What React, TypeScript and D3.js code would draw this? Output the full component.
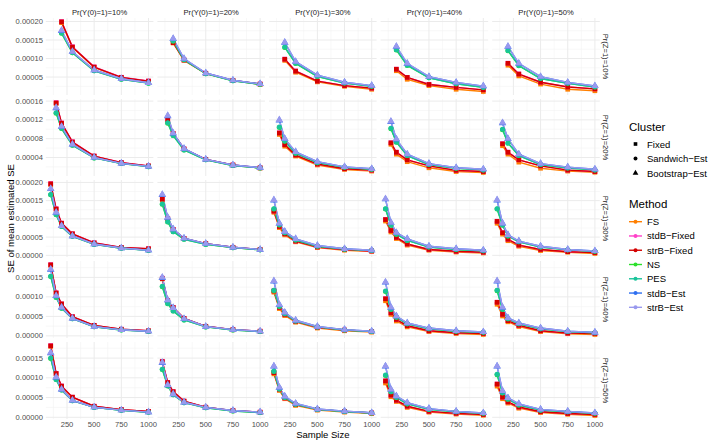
import React from "react";
import * as d3 from "d3";

const zLabels = ["Pr(Z=1)=10%", "Pr(Z=1)=20%", "Pr(Z=1)=30%", "Pr(Z=1)=40%", "Pr(Z=1)=50%"];
const yLabels = ["Pr(Y(0)=1)=10%", "Pr(Y(0)=1)=20%", "Pr(Y(0)=1)=30%", "Pr(Y(0)=1)=40%", "Pr(Y(0)=1)=50%"];

// sample sizes per facet row
const sampleSizes = [
  [200, 300, 500, 750, 1000],
  [150, 200, 300, 500, 750, 1000],
  [100, 150, 200, 300, 500, 750, 1000],
  [100, 150, 200, 300, 500, 750, 1000],
  [100, 150, 200, 300, 500, 750, 1000],
];

const methods = ["FS", "stdB\u2212Fixed", "strB\u2212Fixed", "NS", "PES", "stdB\u2212Est", "strB\u2212Est"];
const methodColors = ["#ff7f00", "#ff40c8", "#d40000", "#2be02b", "#19c49a", "#2e6ff0", "#9999ee"];
const methodCluster = [0, 0, 0, 1, 1, 2, 2];
const clusters = ["Fixed", "Sandwich\u2212Est", "Bootstrap\u2212Est"];

const xTicks = [250, 500, 750, 1000];
const xMinor = [125, 375, 625, 875];
// y ticks in units of 1e-6
const yTicksByRow = [
  [50, 100, 150, 200],
  [40, 80, 120, 160],
  [0, 50, 100, 150, 200],
  [0, 50, 100, 150],
  [0, 50, 100, 150],
];

// SE of mean estimated SE, in units of 1e-6; 25 panels, row = Pr(Z=1), column = Pr(Y(0)=1)
const seFS = [
  [197, 130, 76, 48.5, 38.5], [142, 95, 59.5, 40.5, 30.5], [95, 63, 37, 25, 17], [67, 44, 27, 17, 11], [82, 53, 31, 17, 13],
  [155, 112, 72, 42.5, 28.5, 21.5], [119, 90, 57.5, 35.5, 23.5, 17.5], [89, 64, 43, 24, 14.5, 11], [68, 47, 31, 18, 10, 8], [65, 47, 30, 17, 11, 8.5],
  [194, 126, 87, 58.5, 33.5, 21, 17.5], [153, 100, 70, 46, 31.5, 21.5, 15.5], [118, 76, 56, 37, 21, 14, 10.5], [94, 64, 46, 28, 14, 9, 6.5], [88, 58, 40, 25, 13, 8.5, 5],
  [181, 109, 81, 48.5, 26.5, 16.5, 12.5], [146, 89, 72, 44.5, 24, 15.5, 11.5], [112, 70, 52, 35, 20, 13, 9.5], [90, 55, 38, 23, 11, 6, 3.5], [81, 51, 36, 24, 11, 5.5, 3.5],
  [180, 110, 78, 50.5, 27.5, 19, 14.5], [140, 87, 64, 40.5, 25, 16.5, 12.5], [110, 68, 47, 30, 18, 13, 9.5], [87, 52, 40, 25, 13, 8, 5], [79, 47, 36, 23, 12, 7.5, 4.5],
];
const seStdBFixed = [
  [200, 132, 77.5, 49.5, 39.5], [144, 96.5, 60.5, 41, 31.5], [98.5, 66.5, 39.5, 27, 20], [71.5, 49, 30.5, 22, 15.5], [87.5, 58.5, 36, 23.5, 18],
  [157, 113.5, 73.5, 43, 29.5, 22], [121, 91, 58.5, 36, 24, 18], [92.5, 67.5, 45.5, 26, 16, 13], [71.5, 51.5, 35, 22, 12.5, 10], [69.5, 51.5, 35, 22, 13, 10],
  [197, 128, 88.5, 59, 34.5, 21.5, 18], [155, 101.5, 71, 46.5, 32, 22, 16], [121.5, 79.5, 59, 39, 23, 16, 12], [98.5, 68, 49, 31, 16, 11, 8.5], [93.5, 62, 44, 28, 16, 10, 7.5],
  [183, 110.5, 82, 49.5, 27, 17, 13], [148, 90.5, 73, 45, 24.5, 16, 12], [115.5, 73, 55, 37, 22, 15, 11], [95.5, 59, 42, 26, 13, 8, 6], [86.5, 55, 39, 27, 13, 7, 6],
  [182, 111.5, 79.5, 51, 28, 19.5, 15], [142, 88.5, 65, 41, 25.5, 17, 13], [113.5, 71, 49, 32, 20, 15, 11], [92.5, 56, 43, 28, 15, 10, 7], [84.5, 51, 39, 26, 14, 9.5, 7],
];
const seStrBFixed = [
  [199, 131, 77, 49, 39], [143, 96, 60, 41, 31], [98, 66, 39, 27, 20], [71, 49, 30, 22, 15.5], [87, 58, 36, 23, 18],
  [156, 113, 73, 43, 29, 22], [120, 91, 58, 36, 24, 18], [92, 67, 45, 26, 16, 13], [71, 51, 35, 22, 12.5, 10], [69, 51, 35, 22, 13, 10],
  [196, 127, 88, 59, 34, 21.5, 18], [154, 101, 71, 46.5, 32, 22, 16], [121, 79, 59, 39, 23, 16, 12], [98, 68, 49, 31, 16, 11, 8.5], [93, 62, 44, 28, 16, 10, 7.5],
  [182, 110, 82, 49, 27, 17, 13], [147, 90, 73, 45, 24.5, 16, 12], [115, 73, 55, 37, 22, 15, 11], [95, 59, 42, 26, 13, 8, 6], [86, 55, 39, 27, 13, 7, 6],
  [181, 111, 79, 51, 28, 19.5, 15], [141, 88, 65, 41, 25.5, 17, 13], [113, 71, 49, 32, 20, 15, 11], [92, 56, 43, 28, 15, 10, 7], [84, 51, 39, 26, 14, 9.5, 7],
];
const seNS = [
  [168, 115.5, 67, 44, 33.5], [147, 96.5, 59, 40, 30.5], [130, 86.5, 51.5, 34, 25], [123, 81.5, 48, 32, 22], [121, 80.5, 46, 33, 23],
  [134, 101.5, 66, 39, 27, 20.5], [113, 86.5, 56, 35, 23, 17.5], [104, 74.5, 49, 29, 19, 15], [101, 72.5, 44, 25, 17, 13.5], [99, 70.5, 44, 25, 17.5, 13.5],
  [166, 111.5, 79, 52, 30, 19.5, 13.5], [140, 91.5, 65, 44, 30, 21, 15], [127, 83.5, 62, 42, 25, 17, 13], [127, 82.5, 58, 41, 23, 16, 12.5], [127, 82.5, 53, 37, 23, 15, 11],
  [152, 98.5, 71, 44, 23.5, 15, 11.5], [126, 82.5, 64, 41, 23, 15, 11], [116, 75.5, 57, 38, 23, 15, 11], [114, 67.5, 48, 31, 18, 12, 9], [116, 67.5, 44, 31, 18, 11, 8],
  [149, 95.5, 69, 42, 25, 17.5, 12.5], [121, 79.5, 57, 37, 24, 16, 12], [116, 71.5, 50, 33, 20, 14.5, 11], [106, 64.5, 50, 34, 20, 14, 10], [108, 61.5, 46, 31, 18, 14, 10],
];
const sePES = [
  [169, 116, 67, 44, 33.5], [148, 97, 59, 40, 30.5], [131, 87, 52, 34, 25], [124, 82, 48, 32, 22], [122, 81, 46, 33, 23],
  [135, 102, 66, 39, 27, 20.5], [114, 87, 56, 35, 23, 17.5], [105, 75, 49, 29, 19, 15], [102, 73, 44, 25, 17, 13.5], [100, 71, 44, 25, 17.5, 13.5],
  [167, 112, 79, 52, 30, 19.5, 13.5], [141, 92, 65, 44, 30, 21, 15], [128, 84, 62, 42, 25, 17, 13], [128, 83, 58, 41, 23, 16, 12.5], [128, 83, 53, 37, 23, 15, 11],
  [153, 99, 71, 44, 23.5, 15, 11.5], [127, 83, 64, 41, 23, 15, 11], [117, 76, 57, 38, 23, 15, 11], [115, 68, 48, 31, 18, 12, 9], [117, 68, 44, 31, 18, 11, 8],
  [150, 96, 69, 42, 25, 17.5, 12.5], [122, 80, 57, 37, 24, 16, 12], [117, 72, 50, 33, 20, 14.5, 11], [107, 65, 50, 34, 20, 14, 10], [109, 62, 46, 31, 18, 14, 10],
];
const seStdBEst = [
  [175, 118.5, 69, 45.5, 34.5], [153, 99.5, 61, 41.5, 31.5], [143, 91.5, 55, 36, 27], [132, 86.5, 51, 35.5, 25.5], [132, 86.5, 51, 35.5, 26],
  [145, 105.5, 68, 40, 27.5, 21], [128, 91.5, 59, 36, 24, 18.5], [119, 79.5, 52, 31, 20, 16], [116, 78.5, 47, 27, 18, 15], [113, 79.5, 47, 27, 19.5, 15],
  [182, 117.5, 81, 53, 31, 20, 14], [166, 103.5, 72, 47, 32, 22, 16], [151, 87.5, 65, 45, 27, 18, 14], [154, 89.5, 62, 45, 25, 18, 14], [151, 87.5, 56, 39, 25, 16, 12],
  [170, 102.5, 73, 45, 24, 15.5, 12], [149, 91.5, 72, 44, 24, 16, 12], [140, 79.5, 60, 40, 24, 16, 12], [137, 72.5, 51, 33, 20, 13, 10], [140, 72.5, 46, 33, 20, 12, 9],
  [163, 101.5, 71, 43, 25.5, 18, 13], [138, 81.5, 59, 38, 25, 17, 13], [129, 75.5, 53, 35, 21, 15.5, 11.5], [129, 70.5, 54, 37, 22, 15, 11], [129, 66.5, 49, 34, 20, 15, 11],
];
const seStrBEst = [
  [176, 119, 69, 45.5, 34.5], [154, 100, 61, 41.5, 31.5], [144, 92, 55, 36, 27], [133, 87, 51, 35.5, 25.5], [133, 87, 51, 35.5, 26],
  [146, 106, 68, 40, 27.5, 21], [129, 92, 59, 36, 24, 18.5], [120, 80, 52, 31, 20, 16], [117, 79, 47, 27, 18, 15], [114, 80, 47, 27, 19.5, 15],
  [183, 118, 81, 53, 31, 20, 14], [167, 104, 72, 47, 32, 22, 16], [152, 88, 65, 45, 27, 18, 14], [155, 90, 62, 45, 25, 18, 14], [152, 88, 56, 39, 25, 16, 12],
  [171, 103, 73, 45, 24, 15.5, 12], [150, 92, 72, 44, 24, 16, 12], [141, 80, 60, 40, 24, 16, 12], [138, 73, 51, 33, 20, 13, 10], [141, 73, 46, 33, 20, 12, 9],
  [164, 102, 71, 43, 25.5, 18, 13], [139, 82, 59, 38, 25, 17, 13], [130, 76, 53, 35, 21, 15.5, 11.5], [130, 71, 54, 37, 22, 15, 11], [130, 67, 49, 34, 20, 15, 11],
];

const series = [seFS, seStdBFixed, seStrBFixed, seNS, sePES, seStdBEst, seStrBEst];

const shapes = [d3.symbolSquare, d3.symbolCircle, d3.symbolTriangle];
const shapeSizes = [22, 20, 24];

const font = "'Liberation Sans', Arial, Helvetica, sans-serif";
const left0 = 45.8;
const top0 = 18;
const panelW = 107.6;
const panelH = 77;
const gap = 4;

function expand([lo, hi]: number[]) {
  const pad = (hi - lo) * 0.05;
  return [lo - pad, hi + pad];
}

export default function App() {
  const allN = sampleSizes.flat();
  const x = d3.scaleLinear().domain(expand(d3.extent(allN) as number[])).range([0, panelW]);

  const yScales = zLabels.map((_, r) => {
    const vals = series.flatMap(s => yLabels.flatMap((_, c) => s[r * 5 + c]));
    return d3.scaleLinear().domain(expand(d3.extent(vals) as number[])).range([panelH, 0]);
  });

  const fmt = (t: number) => (t / 1e6).toFixed(5);

  const panels = [];
  zLabels.forEach((zl, r) => {
    const y = yScales[r];
    const [d0, d1] = y.domain();
    const ticks = yTicksByRow[r];
    const step = ticks[1] - ticks[0];
    const yMinor = [ticks[0] - step / 2, ...ticks.map(t => t + step / 2)].filter(v => v >= d0 && v <= d1);
    yLabels.forEach((yl, c) => {
      const px = left0 + c * (panelW + gap);
      const py = top0 + r * (panelH + gap);
      const ns = sampleSizes[r];
      const line = d3.line<number>().x((_, i) => x(ns[i])).y(v => y(v));
      panels.push(
        <g key={`p${r}-${c}`} transform={`translate(${px},${py})`}>
          {xMinor.map(t => (
            <line key={`xm${t}`} x1={x(t)} x2={x(t)} y1={0} y2={panelH} stroke="#f4f4f4" strokeWidth={0.6} />
          ))}
          {yMinor.map(t => (
            <line key={`ym${t}`} x1={0} x2={panelW} y1={y(t)} y2={y(t)} stroke="#f4f4f4" strokeWidth={0.6} />
          ))}
          {xTicks.map(t => (
            <line key={`xg${t}`} x1={x(t)} x2={x(t)} y1={0} y2={panelH} stroke="#ebebeb" strokeWidth={1} />
          ))}
          {ticks.map(t => (
            <line key={`yg${t}`} x1={0} x2={panelW} y1={y(t)} y2={y(t)} stroke="#ebebeb" strokeWidth={1} />
          ))}
          {series.map((s, m) => (
            <path key={`l${m}`} d={line(s[r * 5 + c]) || ""} fill="none" stroke={methodColors[m]} strokeWidth={1.4} />
          ))}
          {series.map((s, m) =>
            s[r * 5 + c].map((v, i) => (
              <path
                key={`pt${m}-${i}`}
                transform={`translate(${x(ns[i])},${y(v)})`}
                d={d3.symbol().type(shapes[methodCluster[m]]).size(shapeSizes[methodCluster[m]])() || ""}
                fill={methodColors[m]}
              />
            ))
          )}
        </g>
      );
    });
  });

  return (
    <svg width={720} height={444} style={{ position: "absolute", left: 0, top: 0, background: "#fff" }} fontFamily={font}>
      <rect width={720} height={444} fill="#fff" />
      {panels}
      {/* column strips */}
      {yLabels.map((yl, c) => (
        <text key={yl} x={left0 + c * (panelW + gap) + panelW / 2} y={12} textAnchor="middle" dominantBaseline="central" fontSize={7.6} fill="#1a1a1a">
          {yl}
        </text>
      ))}
      {/* row strips */}
      {zLabels.map((zl, r) => {
        const cx = left0 + 5 * panelW + 4 * gap + 6;
        const cy = top0 + r * (panelH + gap) + panelH / 2;
        return (
          <text key={zl} x={cx} y={cy} transform={`rotate(90,${cx},${cy})`} textAnchor="middle" dominantBaseline="central" fontSize={7.6} fill="#1a1a1a">
            {zl}
          </text>
        );
      })}
      {/* y axis labels */}
      {zLabels.map((zl, r) =>
        yTicksByRow[r].map(t => (
          <text key={`yt${r}-${t}`} x={43} y={top0 + r * (panelH + gap) + yScales[r](t)} textAnchor="end" dominantBaseline="central" fontSize={7.6} fill="#4d4d4d">
            {fmt(t)}
          </text>
        ))
      )}
      {/* x axis labels */}
      {yLabels.map((yl, c) =>
        xTicks.map(t => (
          <text key={`xt${c}-${t}`} x={left0 + c * (panelW + gap) + x(t)} y={top0 + 5 * panelH + 4 * gap + 5.5} textAnchor="middle" dominantBaseline="central" fontSize={7.6} fill="#4d4d4d">
            {t}
          </text>
        ))
      )}
      <text x={left0 + (5 * panelW + 4 * gap) / 2} y={434} textAnchor="middle" dominantBaseline="central" fontSize={9.5} fill="#000">
        Sample Size
      </text>
      <text x={10} y={top0 + (5 * panelH + 4 * gap) / 2} transform={`rotate(-90,10,${top0 + (5 * panelH + 4 * gap) / 2})`} textAnchor="middle" dominantBaseline="central" fontSize={9.5} fill="#000">
        SE of mean estimated SE
      </text>
      {/* Cluster legend */}
      <text x={629} y={127} dominantBaseline="central" fontSize={11.5} fill="#000">Cluster</text>
      {clusters.map((cl, i) => (
        <g key={cl}>
          <path transform={`translate(635.5,${144 + i * 14.5})`} d={d3.symbol().type(shapes[i]).size(shapeSizes[i] * 0.6)() || ""} fill="#000" />
          <text x={647} y={144 + i * 14.5} dominantBaseline="central" fontSize={9.5} fill="#000">{cl}</text>
        </g>
      ))}
      {/* Method legend */}
      <text x={629} y={204} dominantBaseline="central" fontSize={11.5} fill="#000">Method</text>
      {methods.map((m, i) => {
        const ly = 221.7 + i * 14.27;
        return (
          <g key={m}>
            <line x1={629} x2={642} y1={ly} y2={ly} stroke={methodColors[i]} strokeWidth={1.4} />
            <circle cx={635.5} cy={ly} r={2} fill={methodColors[i]} />
            <text x={647} y={ly} dominantBaseline="central" fontSize={9.5} fill="#000">{m}</text>
          </g>
        );
      })}
    </svg>
  );
}
